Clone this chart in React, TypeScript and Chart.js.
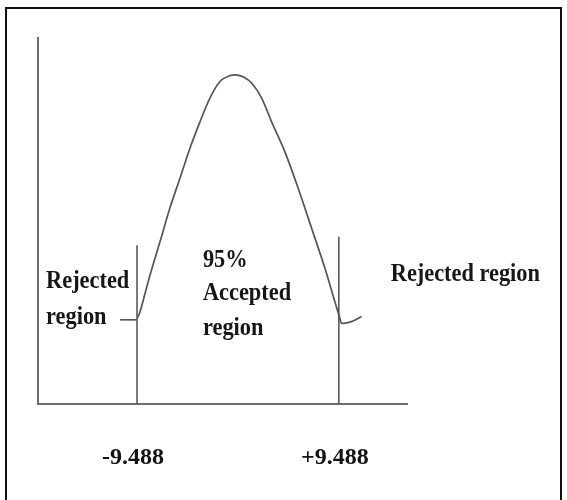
import React, { useEffect, useRef } from "react";
import { Chart, registerables } from "chart.js";

Chart.register(...registerables);

// Axis extents (data units)
const xMin = -18.8;
const xMax = 15.9;
const yMin = 0;
const yMax = 100;

// Critical values (tick labels) and heights of the vertical boundary lines
const criticalValues = [-9.488, 9.488];
const criticalLabels = ["-9.488", "+9.488"];
const criticalTops = [43.4, 45.7];

// Hand-drawn density curve
const curveX = [-9.46, -9.21, -8.27, -7.33, -6.39, -5.45, -4.51, -3.57, -2.63, -1.69, -0.85, -0.19, 0.56, 1.29, 2.23, 3.17, 4.42, 5.66, 6.92, 8.17, 9.11, 9.58, 9.74, 10.68, 11.62];
const curveY = [23.5, 25.1, 35.2, 44.3, 53.6, 61.7, 69.9, 77.1, 83.6, 88.1, 89.6, 89.9, 89.3, 87.7, 83.6, 77.1, 68.9, 59.0, 48.1, 37.2, 28.0, 23.5, 22.1, 22.5, 23.9];

// Small stroke left of the lower critical line
const dashX = [-11.08, -9.46];
const dashY = [23.0, 23.0];

// Annotation texts and their anchor points (data units: left x, baselines y)
const leftLabelLines = ["Rejected", "region"];
const leftLabelX = -18.04;
const leftLabelY = [31.7, 21.9];
const centerLabelLines = ["95%", "Accepted", "region"];
const centerLabelX = -3.29;
const centerLabelY = [37.4, 28.4, 18.9];
const rightLabelLines = ["Rejected region"];
const rightLabelX = 14.37;
const rightLabelY = [33.6];

const labelPlugin = {
  id: "regionLabels",
  afterDatasetsDraw(chart: any) {
    const { ctx, scales } = chart;
    const xs = scales.x;
    const ys = scales.y;
    const groups = [
      { lines: leftLabelLines, x: leftLabelX, y: leftLabelY },
      { lines: centerLabelLines, x: centerLabelX, y: centerLabelY },
      { lines: rightLabelLines, x: rightLabelX, y: rightLabelY },
    ];
    ctx.save();
    ctx.font = 'bold 26px "Liberation Serif"';
    ctx.fillStyle = "#161616";
    ctx.textBaseline = "alphabetic";
    ctx.textAlign = "left";
    groups.forEach((g) => {
      g.lines.forEach((t, i) => {
        const px = xs.getPixelForValue(g.x);
        const py = ys.getPixelForValue(g.y[i]);
        ctx.save();
        ctx.translate(px, py);
        ctx.scale(0.86, 1);
        ctx.fillText(t, 0, 0);
        ctx.restore();
      });
    });
    ctx.restore();
  },
};

export default function App() {
  const ref = useRef<HTMLCanvasElement | null>(null);

  useEffect(() => {
    if (!ref.current) return;
    const curve = curveX.map((x, i) => ({ x, y: curveY[i] }));
    const lineColor = "#555555";
    const datasets: any[] = [
      {
        label: "curve",
        data: curve,
        borderColor: lineColor,
        borderWidth: 1.7,
        pointRadius: 0,
        fill: false,
        tension: 0.3,
      },
      ...criticalValues.map((v, i) => ({
        label: "critical " + criticalLabels[i],
        data: [
          { x: v, y: yMin },
          { x: v, y: criticalTops[i] },
        ],
        borderColor: "#5a5a5a",
        borderWidth: 1.6,
        pointRadius: 0,
        fill: false,
      })),
      {
        label: "dash",
        data: dashX.map((x, i) => ({ x, y: dashY[i] })),
        borderColor: lineColor,
        borderWidth: 1.6,
        pointRadius: 0,
        fill: false,
      },
    ];

    const chart = new Chart(ref.current, {
      type: "line",
      data: { datasets },
      plugins: [labelPlugin],
      options: {
        animation: false,
        responsive: false,
        events: [],
        layout: { padding: { left: 38, top: 38, right: 160, bottom: 0 } },
        plugins: {
          legend: { display: false },
          tooltip: { enabled: false },
          title: { display: false },
        },
        scales: {
          x: {
            type: "linear",
            position: "bottom",
            min: xMin,
            max: xMax,
            grid: { display: false, drawTicks: false, tickLength: 0 },
            border: { display: true, color: "#6e6e6e", width: 2 },
            afterBuildTicks: (scale: any) => {
              scale.ticks = criticalValues.map((v) => ({ value: v }));
            },
            afterFit: (scale: any) => {
              scale.height = 96;
            },
            ticks: {
              autoSkip: false,
              maxRotation: 0,
              padding: 39,
              labelOffset: -4,
              color: "#141414",
              font: { family: '"Liberation Serif"', size: 24, weight: "bold" },
              callback: (v: any) => {
                const idx = criticalValues.indexOf(Number(v));
                return idx >= 0 ? criticalLabels[idx] : "";
              },
            },
          },
          y: {
            type: "linear",
            min: yMin,
            max: yMax,
            grid: { display: false, drawTicks: false, tickLength: 0 },
            border: { display: true, color: "#6e6e6e", width: 2 },
            ticks: { display: false },
            afterFit: (scale: any) => {
              scale.width = 0;
            },
          },
        },
      } as any,
    });
    return () => chart.destroy();
  }, []);

  return (
    <div style={{ position: "absolute", left: 0, top: 0, width: 567, height: 500, background: "#fff", overflow: "hidden" }}>
      <canvas ref={ref} width={567} height={500} style={{ position: "absolute", left: 0, top: 0, display: "block" }} />
      <div
        style={{
          position: "absolute",
          left: 5,
          top: 7,
          width: 557,
          height: 500,
          border: "2px solid #111",
          boxSizing: "border-box",
          pointerEvents: "none",
        }}
      />
    </div>
  );
}
